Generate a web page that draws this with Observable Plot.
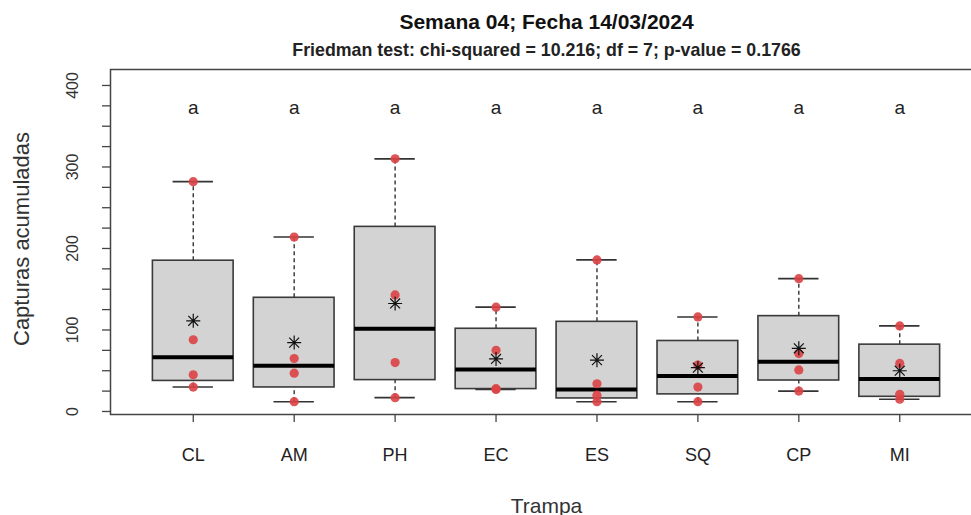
<!DOCTYPE html>
<html>
<head>
<meta charset="utf-8">
<script src="https://cdn.jsdelivr.net/npm/d3@7"></script>
<script src="https://cdn.jsdelivr.net/npm/@observablehq/plot@0.6"></script>
<style>
  html, body { margin: 0; padding: 0; background: white; overflow: hidden; }
  #chart svg { max-width: none !important; }
</style>
</head>
<body>
<div id="chart"></div>
<script>
// ---- data ----
const traps = ["CL", "AM", "PH", "EC", "ES", "SQ", "CP", "MI"];
const CL = [30, 45, 88, 282];
const AM = [12, 47, 65, 214];
const PH = [17, 60, 143, 310];
const EC = [27, 28, 75, 128];
const ES = [12, 20, 34, 186];
const SQ = [12, 30, 57, 116];
const CP = [25, 51, 71, 163];
const MI = [15, 21, 59, 105];
const letters = ["a", "a", "a", "a", "a", "a", "a", "a"];
const yTicks = [0, 25, 50, 75, 100, 125, 150, 175, 200, 225, 250, 275, 300, 325, 350, 375, 400];
const yLabels = [0, 100, 200, 300, 400];
const letterY = 372;
const title = "Semana 04; Fecha 14/03/2024";
const subtitle = "Friedman test: chi-squared = 10.216; df = 7; p-value = 0.1766";

const series = [CL, AM, PH, EC, ES, SQ, CP, MI];

// R-style fivenum (Tukey hinges)
function fivenum(v) {
  const x = v.slice().sort((a, b) => a - b);
  const n = x.length;
  const n4 = Math.floor((n + 3) / 2) / 2;
  const d = [1, n4, (n + 1) / 2, n + 1 - n4, n];
  return d.map(k => 0.5 * (x[Math.floor(k) - 1] + x[Math.ceil(k) - 1]));
}

const boxes = traps.map((t, i) => {
  const f = fivenum(series[i]);
  return {trap: t, pos: i + 1, min: f[0], q1: f[1], med: f[2], q3: f[3], max: f[4],
          mean: d3.mean(series[i]), letter: letters[i]};
});
const points = traps.flatMap((t, i) => series[i].map(v => ({trap: t, pos: i + 1, value: v})));

const asterisk8 = {
  draw(ctx, size) {
    const r = Math.sqrt(size / Math.PI);
    const d = r * Math.SQRT1_2;
    ctx.moveTo(-r, 0); ctx.lineTo(r, 0);
    ctx.moveTo(0, -r); ctx.lineTo(0, r);
    ctx.moveTo(-d, -d); ctx.lineTo(d, d);
    ctx.moveTo(-d, d); ctx.lineTo(d, -d);
  }
};

const bw = 0.4;   // half box width
const cw = 0.2;   // half cap width
const font = "Liberation Sans, Arial, Helvetica, sans-serif";

const chart = Plot.plot({
  width: 990,
  height: 515,
  marginLeft: 110,
  marginRight: 8,
  marginTop: 69,
  marginBottom: 101,
  style: {fontFamily: font, background: "white", color: "#222"},
  x: {type: "linear", domain: [0.18, 8.82], axis: null},
  y: {domain: [-3.7, 419.6], axis: null},
  marks: [
    // y axis ticks
    Plot.axisY({ticks: yTicks, tickSize: 8, tickFormat: () => "", label: null, stroke: "#444", strokeWidth: 1.3}),
    Plot.text(yLabels, {y: d => d, text: d => String(d), frameAnchor: "left", textAnchor: "middle",
      dx: -38, rotate: -90, fontSize: 16, fill: "#333"}),
    // x axis ticks
    Plot.axisX({ticks: boxes.map(d => d.pos), tickSize: 8, tickFormat: d => traps[d - 1], label: null,
      tickPadding: 26, fontSize: 18, stroke: "#444", strokeWidth: 1.3, fill: "#222"}),
    // axis titles
    Plot.text(["Capturas acumuladas"], {frameAnchor: "left", textAnchor: "middle", dx: -89, dy: -3,
      rotate: -90, fontSize: 22, fill: "#333"}),
    Plot.text(["Trampa"], {frameAnchor: "bottom", dy: 98, fontSize: 21, fill: "#333"}),
    // title & subtitle
    Plot.text([title], {frameAnchor: "top", dy: -55, fontSize: 21, fontWeight: "bold", fill: "#111"}),
    Plot.text([subtitle], {frameAnchor: "top", dy: -26, fontSize: 17.8, fontWeight: "bold", fill: "#222"}),
    // whiskers
    Plot.ruleX(boxes, {x: "pos", y1: "q3", y2: "max", stroke: "#333", strokeWidth: 1.4, strokeDasharray: "4,3"}),
    Plot.ruleX(boxes, {x: "pos", y1: "min", y2: "q1", stroke: "#333", strokeWidth: 1.4, strokeDasharray: "4,3"}),
    Plot.ruleY(boxes, {y: "max", x1: d => d.pos - cw, x2: d => d.pos + cw, stroke: "#333", strokeWidth: 1.6}),
    Plot.ruleY(boxes, {y: "min", x1: d => d.pos - cw, x2: d => d.pos + cw, stroke: "#333", strokeWidth: 1.6}),
    // boxes
    Plot.rect(boxes, {x1: d => d.pos - bw, x2: d => d.pos + bw, y1: "q1", y2: "q3",
      fill: "#d3d3d3", stroke: "#3a3a3a", strokeWidth: 1.6}),
    Plot.ruleY(boxes, {y: "med", x1: d => d.pos - bw, x2: d => d.pos + bw, stroke: "black", strokeWidth: 4}),
    // observations
    Plot.dot(points, {x: "pos", y: "value", r: 4.6, fill: "#db4245", fillOpacity: 0.9, stroke: "none"}),
    // means
    Plot.dot(boxes, {x: "pos", y: "mean", r: 7, symbol: asterisk8, fill: "none", stroke: "#111", strokeWidth: 1.2}),
    // group letters
    Plot.text(boxes, {x: "pos", y: () => letterY, text: "letter", fontSize: 19, fill: "#222"}),
    // frame
    Plot.frame({stroke: "#444", strokeWidth: 1.5})
  ]
});
chart.style.maxWidth = "none";
document.getElementById("chart").appendChild(chart);
</script>
</body>
</html>
